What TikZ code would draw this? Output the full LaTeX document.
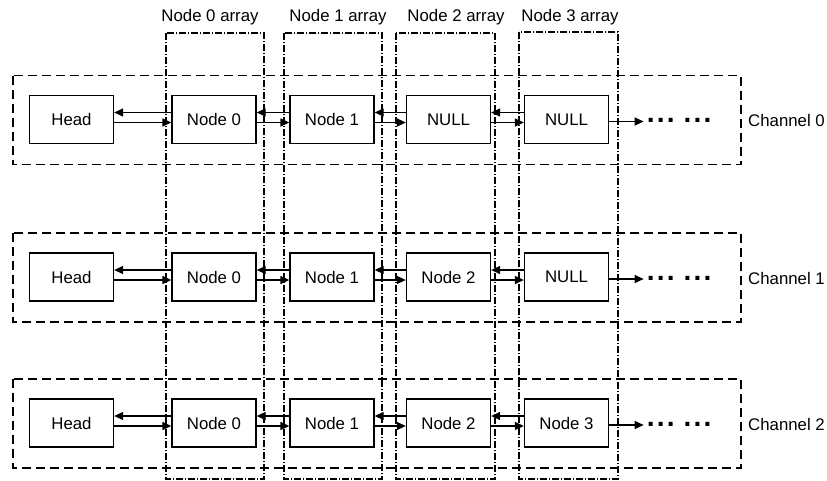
\documentclass[tikz,border=0pt]{standalone}
\usepackage{fontspec}
\setmainfont{Liberation Sans}
\usetikzlibrary{arrows.meta}
\begin{document}
\begin{tikzpicture}[x=1pt,y=-1pt,
  txt/.style={font=\fontsize{16.8}{19}\selectfont},
  box/.style={draw, line width=1.3pt, minimum width=84pt, minimum height=48pt, inner sep=0pt, txt},
  chan/.style={draw, line width=1.3pt, dash pattern=on 9pt off 5pt},
  arrbox/.style={draw, line width=1.2pt, dash pattern=on 7pt off 2pt on 1pt off 2pt},
  lbl/.style={txt, inner sep=0pt},
  link/.style={line width=1.3pt, -{Triangle[length=9pt,width=8pt]}},
  dotsty/.style={inner sep=0pt, anchor=base west, font=\bfseries\fontsize{28}{30}\selectfont},
]
\useasboundingbox (0,0) rectangle (827,480);
% node arrays
\draw[arrbox] (166,33) rectangle (264,479);
\draw[arrbox] (284,33) rectangle (382,479);
\draw[arrbox] (396,33) rectangle (495,479);
\draw[arrbox] (519,32) rectangle (618,479);
\node[lbl, anchor=base] (l0) at (210,21.5) {Node 0 array};
\node[lbl, anchor=base] (l1) at (338,21.5) {Node 1 array};
\node[lbl, anchor=base] (l2) at (456,21.5) {Node 2 array};
\node[lbl, anchor=base] (l3) at (570,21.5) {Node 3 array};
% channels
\foreach \r/\y/\C/\D in {0/119.5/NULL/NULL, 1/277/Node 2/NULL, 2/423/Node 2/Node 3} {
  \draw[chan] (13,{\y-44}) rectangle (741,{\y+45});
  \node[box] (h\r) at (71.5,\y) {Head};
  \node[box] (a\r) at (214,\y) {Node 0};
  \node[box] (b\r) at (332,\y) {Node 1};
  \node[box] (c\r) at (448.5,\y) {\C};
  \node[box] (d\r) at (566.5,\y) {\D};
  \node[lbl, anchor=west] (ch\r) at (748,{\y+1}) {Channel \r};
  \foreach \p/\q in {h/a, a/b, b/c, c/d} {
    \draw[link] ([yshift=7pt]\q\r.west) -- ([yshift=7pt]\p\r.east);
    \draw[link] ([yshift=-3pt]\p\r.east) -- ([yshift=-3pt]\q\r.west);
  }
  \draw[link] ([yshift=-2pt]d\r.east) -- ++(34.5,0) coordinate (e\r);
  \node[dotsty] (dots\r) at ([xshift=3pt,yshift=-1pt]e\r) {.\kern2.2pt.\kern2.2pt.\hspace{9pt}.\kern2.2pt.\kern2.2pt.};
}
\end{tikzpicture}
\end{document}
